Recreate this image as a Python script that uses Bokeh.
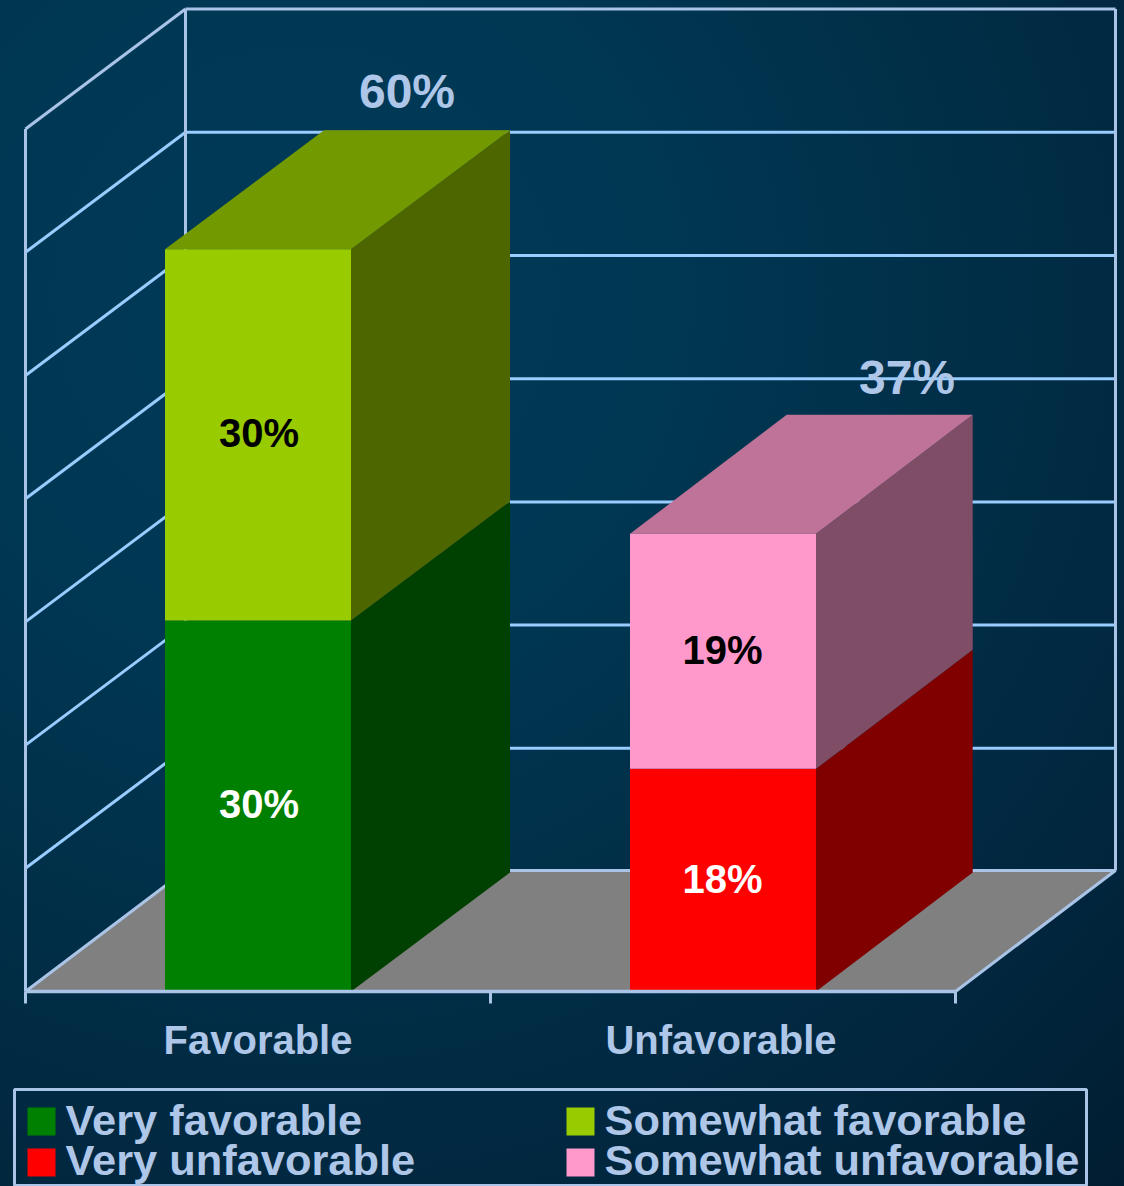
from bokeh.plotting import figure
from bokeh.embed import file_html
from bokeh.resources import INLINE
from bokeh.core.properties import value

# ---- data ----
categories = ["Favorable", "Unfavorable"]
lower_labels = ["Very favorable", "Very unfavorable"]
upper_labels = ["Somewhat favorable", "Somewhat unfavorable"]
lower_values = [30, 18]
upper_values = [30, 19]
total_values = [60, 37]
axis_ticks = [0, 10, 20, 30, 40, 50, 60, 70]

# ---- style / layout ----
W, H = 1124, 1186
X0, X_UNIT = 25.0, 465.0     # px of category-axis origin, px per category
Y0, Y_UNIT = 991.0, 12.37    # px of value 0, px per percentage point
WALL = 0.996                 # wall grid is very slightly tighter than the bars
BAR_W = 0.40
FLOOR_DX, FLOOR_DY = 160 / X_UNIT, 121 / Y_UNIT
WALL_DY = 120 / Y_UNIT
BAR_DX = [0.342, 0.337]
BAR_DY = 119 / Y_UNIT
FIX = -16                    # text baseline calibration for the svg backend

TEXT = "#aec6e8"
FRAME = "#a9c4e6"
GRID = "#99ccff"
FONT = value("Liberation Sans")
C_LOWER = ["#008000", "#ff0000"]
C_LOWER_SIDE = ["#004000", "#800000"]
C_UPPER = ["#99cc00", "#ff99cc"]
C_UPPER_SIDE = ["#4d6600", "#804d66"]
C_UPPER_TOP = ["#739900", "#bf7399"]


def px_x(px):
    return (px - X0) / X_UNIT


def px_y(px):
    return (Y0 - px) / Y_UNIT


p = figure(
    width=W, height=H, output_backend="svg", toolbar_location=None,
    x_range=(px_x(0), px_x(W)), y_range=(px_y(H), px_y(0)),
    min_border=0, outline_line_color=None,
    background_fill_alpha=0, border_fill_alpha=0,
)
p.axis.visible = False
p.grid.visible = False
p.styles = {"background": "radial-gradient(circle at 27% 25%, #003a56 0%, #003854 28%, #012e47 56%, #01263d 80%, #011d31 100%)"}

n = len(categories)

# back wall and side wall grid lines
top_v = axis_ticks[-1] * WALL
for t in axis_ticks[1:]:
    v = t * WALL
    lc = FRAME if t == axis_ticks[-1] else GRID
    p.line([FLOOR_DX, n + FLOOR_DX], [v + WALL_DY, v + WALL_DY], line_color=lc, line_width=3)
    p.line([0, FLOOR_DX], [v, v + WALL_DY], line_color=lc, line_width=3)
p.line([FLOOR_DX, FLOOR_DX], [FLOOR_DY, top_v + WALL_DY], line_color=FRAME, line_width=3)
p.line([n + FLOOR_DX, n + FLOOR_DX], [FLOOR_DY, top_v + WALL_DY], line_color=FRAME, line_width=3)
p.line([0, 0], [0, top_v], line_color=FRAME, line_width=3)

# floor
p.patch([0, n, n + FLOOR_DX, FLOOR_DX], [0, 0, FLOOR_DY, FLOOR_DY], fill_color="#808080",
        line_color=None)
p.line([0, FLOOR_DX, n + FLOOR_DX, n], [0, FLOOR_DY, FLOOR_DY, 0], line_color=FRAME, line_width=3)

# bars
for i in range(n):
    left = i + 0.5 - BAR_W / 2
    right = i + 0.5 + BAR_W / 2
    dx = BAR_DX[i]
    lo = lower_values[i]
    top = lo + upper_values[i]
    # side faces
    p.patch([right, right + dx, right + dx, right], [0, BAR_DY, lo + BAR_DY, lo],
            fill_color=C_LOWER_SIDE[i], line_color=None)
    p.patch([right, right + dx, right + dx, right], [lo, lo + BAR_DY, top + BAR_DY, top],
            fill_color=C_UPPER_SIDE[i], line_color=None)
    # top face
    p.patch([left, right, right + dx, left + dx], [top, top, top + BAR_DY, top + BAR_DY],
            fill_color=C_UPPER_TOP[i], line_color=None)
    # front faces
    p.quad(left=left, right=right, bottom=0, top=lo, fill_color=C_LOWER[i], line_color=None)
    p.quad(left=left, right=right, bottom=lo, top=top, fill_color=C_UPPER[i], line_color=None)

# category axis line and ticks
p.line([0, n], [0, 0], line_color=FRAME, line_width=3.5)
p.segment(x0=list(range(n + 1)), x1=list(range(n + 1)), y0=[0] * (n + 1), y1=[px_y(Y0 + 12)] * (n + 1),
          line_color=FRAME, line_width=3)

# segment labels
centers = [i + 0.5 for i in range(n)]
LABEL_DX = [1 / X_UNIT, -0.5 / X_UNIT]
p.text(x=[c + d for c, d in zip(centers, LABEL_DX)], y=[v / 2 for v in lower_values],
       text=[f"{v}%" for v in lower_values], text_color="#ffffff", text_font=FONT, text_font_style="bold",
       text_font_size="40px", text_align="center", text_baseline="alphabetic", y_offset=14.5 + FIX)
p.text(x=[c + d for c, d in zip(centers, LABEL_DX)], y=[l + u / 2 for l, u in zip(lower_values, upper_values)],
       text=[f"{v}%" for v in upper_values], text_color="#000000", text_font=FONT, text_font_style="bold",
       text_font_size="40px", text_align="center", text_baseline="alphabetic", y_offset=14.5 + FIX)

# totals above the bars
TOTAL_DX = [149 / X_UNIT, 184 / X_UNIT]
TOTAL_DY = [22.5 / Y_UNIT, 21 / Y_UNIT]
p.text(x=[c + d for c, d in zip(centers, TOTAL_DX)], y=[v + BAR_DY + d for v, d in zip(total_values, TOTAL_DY)],
       text=[f"{v}%" for v in total_values], text_color=TEXT, text_font=FONT, text_font_style="bold",
       text_font_size="48px", text_align="center", text_baseline="alphabetic", y_offset=FIX)

# category labels
CAT_DX = [0, -2 / X_UNIT]
p.text(x=[c + d for c, d in zip(centers, CAT_DX)], y=[px_y(1055)] * n, text=categories, text_color=TEXT, text_font=FONT,
       text_font_style="bold", text_font_size="40px", text_align="center", text_baseline="alphabetic",
       y_offset=FIX)

# legend
p.quad(left=px_x(14), right=px_x(1086), top=px_y(1089), bottom=px_y(1185), fill_alpha=0,
       line_color=FRAME, line_width=3)
rows = [(1107, 1135), (1148, 1176)]
TEXT_BASE = [1135, 1175]
for row, (y_top, y_bottom) in enumerate(rows):
    for x_left, colors, labels in ((27, C_LOWER, lower_labels), (566, C_UPPER, upper_labels)):
        p.quad(left=px_x(x_left), right=px_x(x_left + 28), top=px_y(y_top), bottom=px_y(y_bottom),
               fill_color=colors[row], line_color=None)
        p.text(x=[px_x(x_left + 38)], y=[px_y(TEXT_BASE[row])], text=[labels[row]], text_color=TEXT, text_font=FONT,
               text_font_style="bold", text_font_size="43.4px", text_align="left", text_baseline="alphabetic",
               y_offset=FIX)

open("out.html", "w").write(file_html(p, INLINE))
